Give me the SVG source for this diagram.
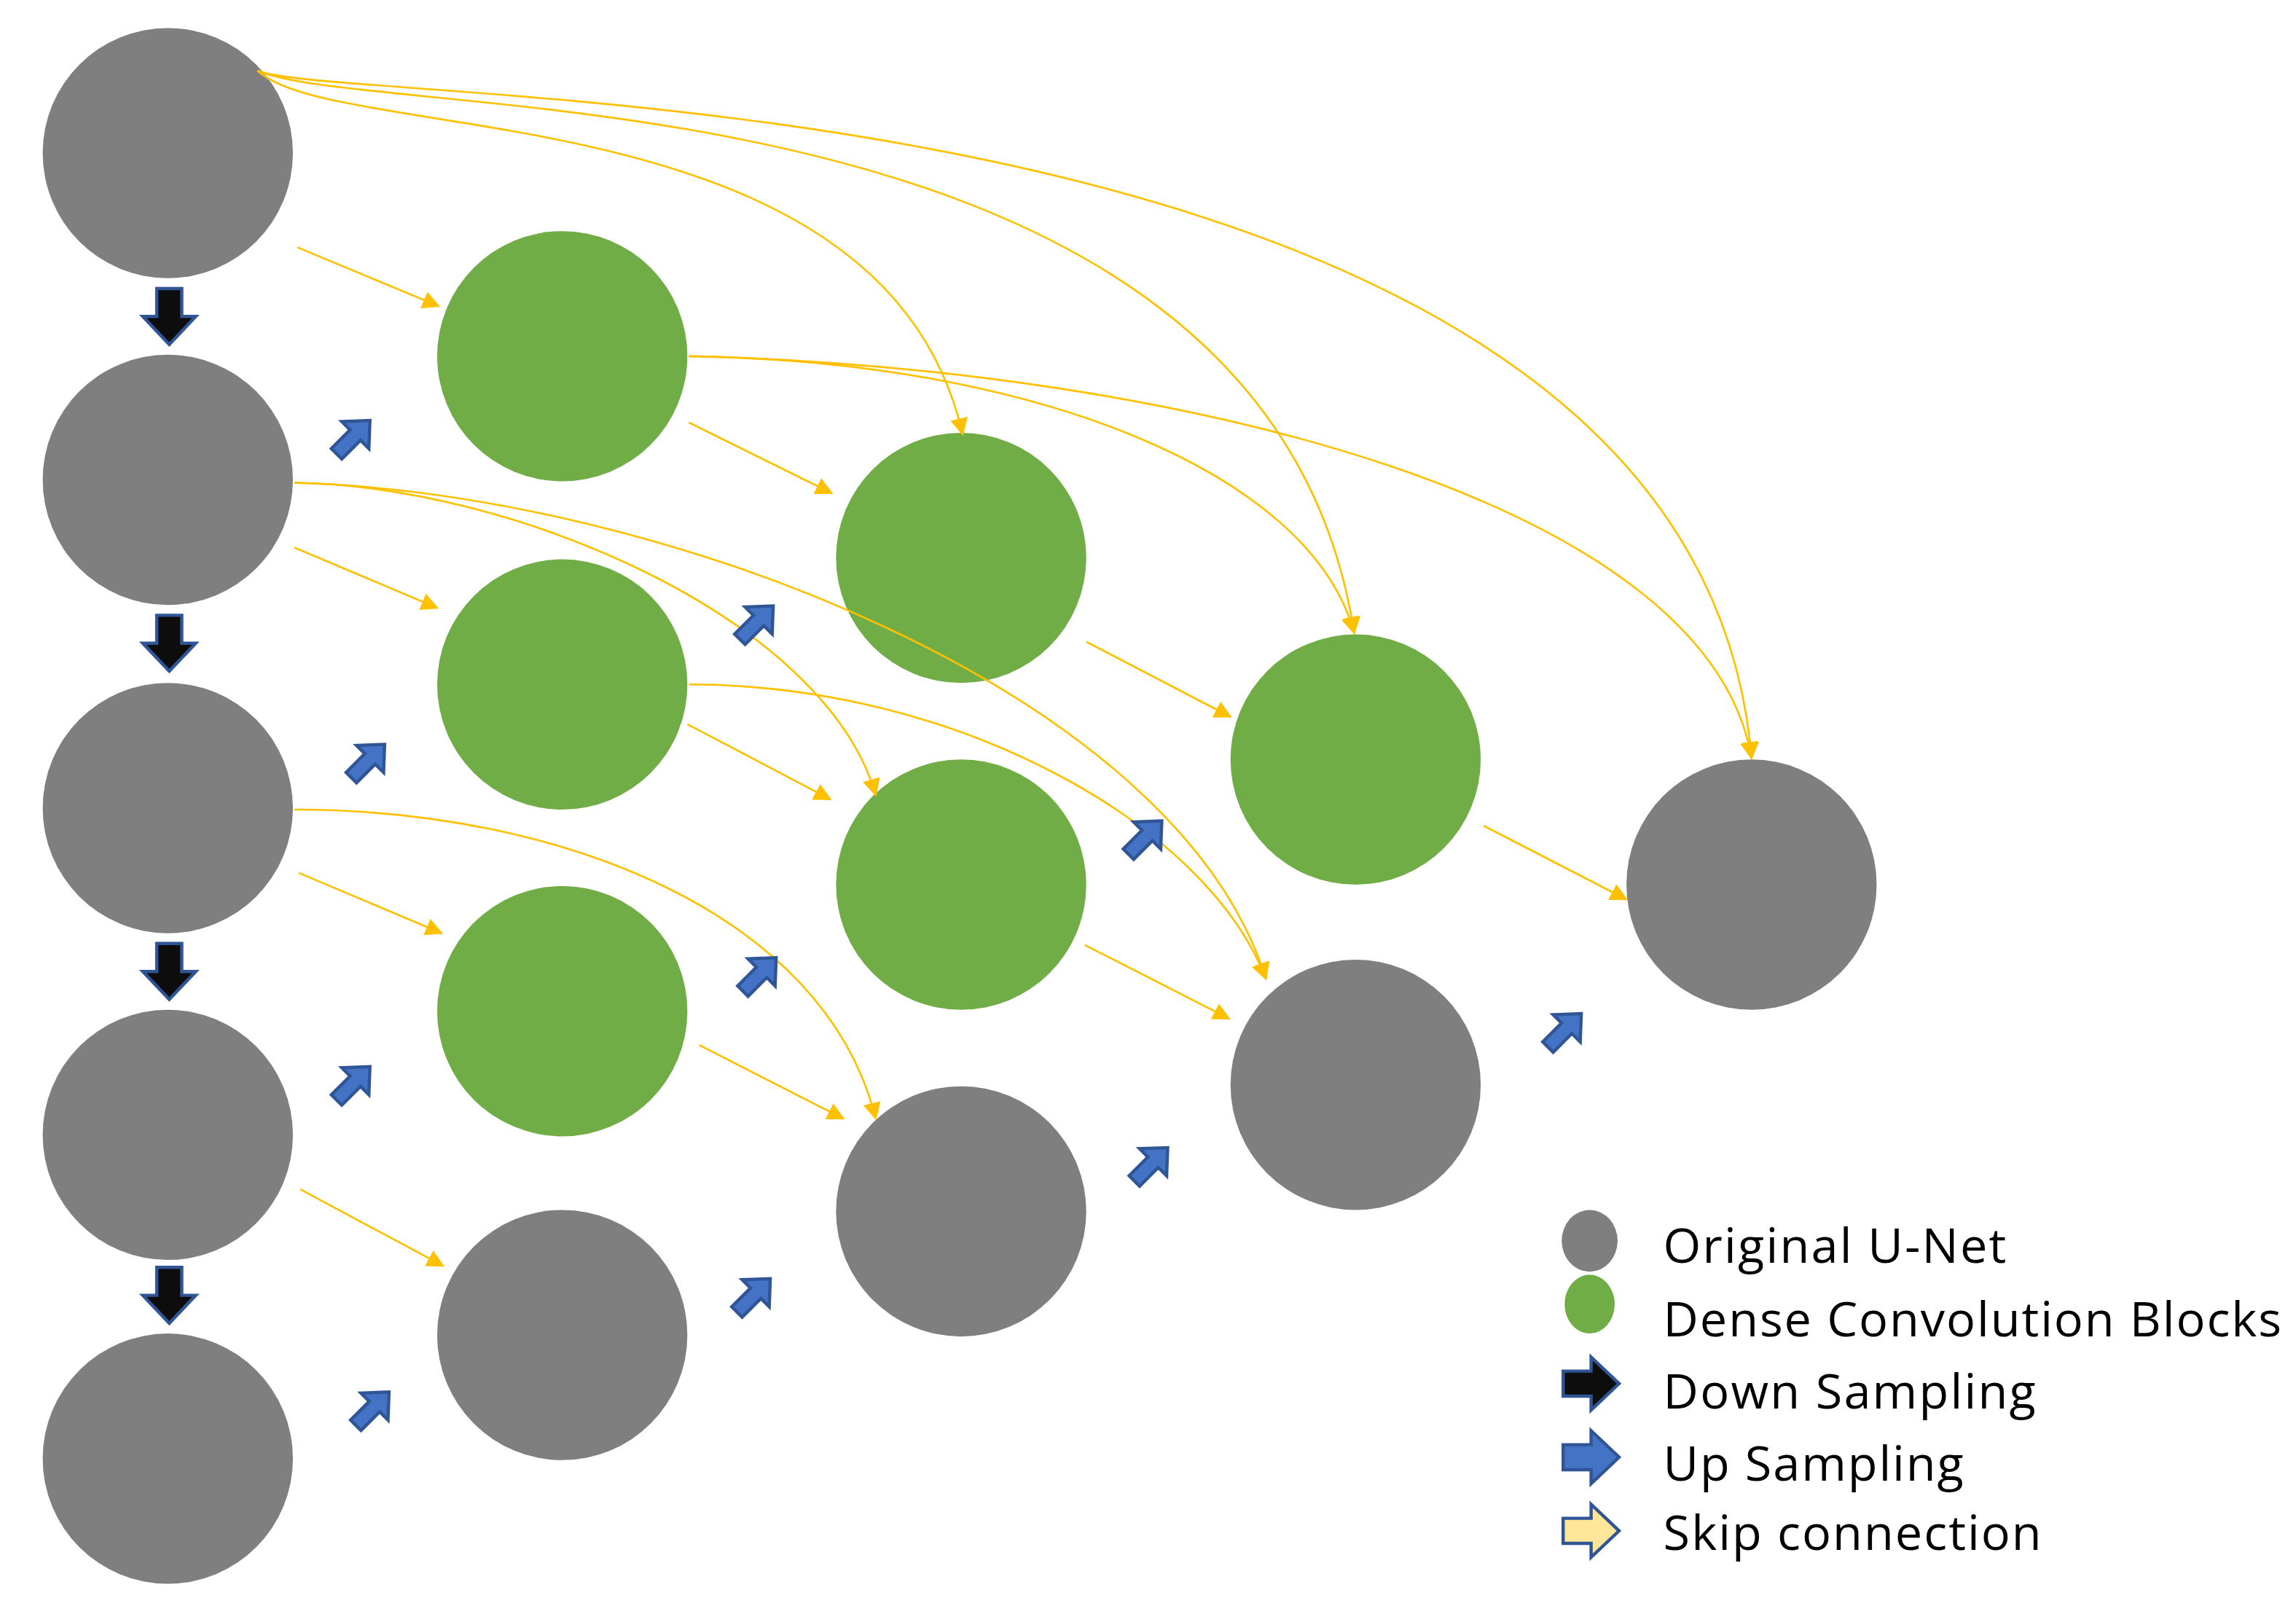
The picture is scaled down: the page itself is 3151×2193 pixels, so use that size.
<svg xmlns="http://www.w3.org/2000/svg" width="3151" height="2193" viewBox="0 0 3151 2193">
<style>
.g{fill:#7f7f7f}.n{fill:#70ad47}
.c{fill:none;stroke:#ffc000;stroke-width:1.3}
.dn{fill:#0d0d0d;stroke:#2f5597;stroke-width:2.2}
.up{fill:#4472c4;stroke:#2f5597;stroke-width:2.2}
.sk{fill:#ffe699;stroke:#2f5597;stroke-width:2.2}
text{font-family:"Open Sans","Liberation Sans",sans-serif;font-size:33px;fill:#000}
</style>
<defs>
<marker id="ah" viewBox="0 0 10 10" refX="9" refY="5" markerWidth="12" markerHeight="12" markerUnits="userSpaceOnUse" orient="auto"><path d="M0,0 L10,5 L0,10 z" fill="#ffc000"/></marker>
<polygon id="da" points="-8.5,-19 8.5,-19 8.5,0 18,0 0,19 -18,0 -8.5,0"/>
<polygon id="ua" points="-16,-5 2,-5 2,-13 16,0 2,13 2,5 -16,5" transform="rotate(-45)"/>
<polygon id="ra" points="-19,-8.5 0,-8.5 0,-18 19,0 0,18 0,8.5 -19,8.5"/>
</defs>
<rect width="3151" height="2193" fill="#fff"/>
<g transform="scale(2.02)">
<g id="nodes">
<g id="n00"><circle class="g" cx="114" cy="104" r="85"/></g>
<g id="n10"><circle class="g" cx="114" cy="326" r="85"/></g>
<g id="n20"><circle class="g" cx="114" cy="549" r="85"/></g>
<g id="n30"><circle class="g" cx="114" cy="771" r="85"/></g>
<g id="n40"><circle class="g" cx="114" cy="991" r="85"/></g>
<g id="n01"><circle class="n" cx="382" cy="242" r="85"/></g>
<g id="n11"><circle class="n" cx="382" cy="465" r="85"/></g>
<g id="n21"><circle class="n" cx="382" cy="687" r="85"/></g>
<g id="n31"><circle class="g" cx="382" cy="907" r="85"/></g>
<g id="n02"><circle class="n" cx="653" cy="379" r="85"/></g>
<g id="n12"><circle class="n" cx="653" cy="601" r="85"/></g>
<g id="n22"><circle class="g" cx="653" cy="823" r="85"/></g>
<g id="n03"><circle class="n" cx="921" cy="516" r="85"/></g>
<g id="n13"><circle class="g" cx="921" cy="737" r="85"/></g>
<g id="n04"><circle class="g" cx="1190" cy="601" r="85"/></g>
</g>
<g id="connectors" marker-end="url(#ah)">
<path class="c" d="M202,168 L298,208"/>
<path class="c" d="M468,287 L565,335"/>
<path class="c" d="M200,372 L297,413"/>
<path class="c" d="M467,492 L564,543"/>
<path class="c" d="M738,436 L836,487"/>
<path class="c" d="M203,593 L300,634"/>
<path class="c" d="M737,642 L835,692"/>
<path class="c" d="M475,710 L573,760"/>
<path class="c" d="M204,808 L301,860"/>
<path class="c" d="M1008,561 L1105,611"/>
<path class="c" d="M175,48 C230,100 600,60 654,295"/>
<path class="c" d="M175,48 C260,85 860,40 920,430"/>
<path class="c" d="M175,48 C240,75 1150,40 1190,515"/>
<path class="c" d="M468,242 C700,245 890,320 920,430"/>
<path class="c" d="M468,242 C800,250 1160,340 1190,515"/>
<path class="c" d="M200,328 C350,330 560,420 595,540"/>
<path class="c" d="M200,328 C450,335 800,470 860,665"/>
<path class="c" d="M468,465 C650,465 820,560 860,665"/>
<path class="c" d="M200,550 C380,550 560,620 595,760"/>
</g>
<g id="downs" class="dn">
<use href="#da" x="115" y="215"/><use href="#da" x="115" y="437"/><use href="#da" x="115" y="660"/><use href="#da" x="115" y="880"/>
</g>
<g id="ups" class="up">
<use href="#ua" x="240" y="297"/><use href="#ua" x="250" y="517"/><use href="#ua" x="240" y="736"/><use href="#ua" x="253" y="957"/>
<use href="#ua" x="514" y="423"/><use href="#ua" x="516" y="662"/><use href="#ua" x="512" y="880"/>
<use href="#ua" x="778" y="569"/><use href="#ua" x="782" y="791"/><use href="#ua" x="1063" y="700"/>
</g>
<g id="legend">
<ellipse class="g" cx="1080" cy="843" rx="19" ry="21"/>
<ellipse class="n" cx="1080" cy="886" rx="17" ry="20"/>
<use href="#ra" x="1081" y="940" class="dn"/>
<use href="#ra" x="1081" y="990" class="up"/>
<use href="#ra" x="1081" y="1040" class="sk"/>
<text x="1130" y="858" textLength="233">Original U-Net</text>
<text x="1130" y="908" textLength="420">Dense Convolution Blocks</text>
<text x="1130" y="957" textLength="253">Down Sampling</text>
<text x="1130" y="1006" textLength="204">Up Sampling</text>
<text x="1130" y="1053" textLength="257">Skip connection</text>
</g>
</g>
</svg>
